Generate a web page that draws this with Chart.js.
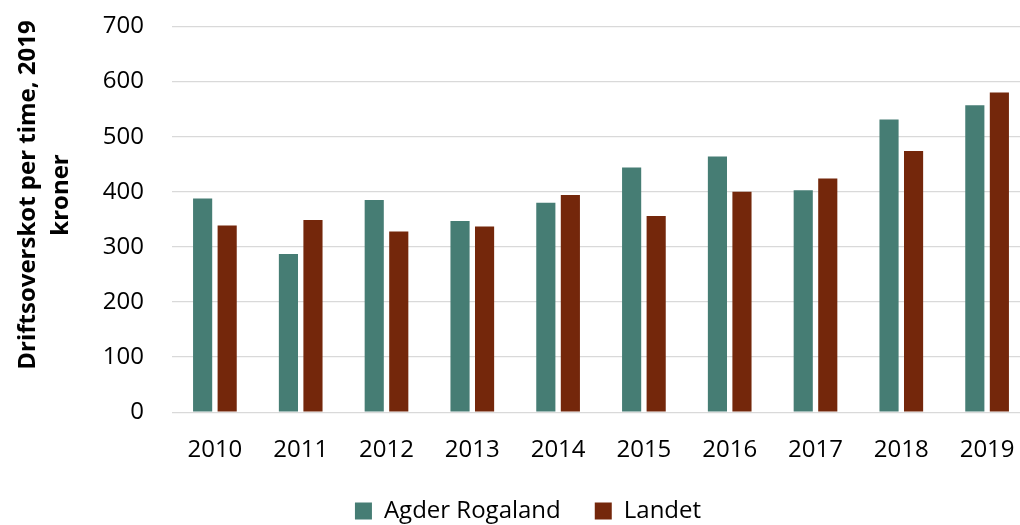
<!DOCTYPE html>
<html>
<head>
<meta charset="utf-8">
<script src="https://cdn.jsdelivr.net/npm/chart.js@4"></script>
<style>
  html, body { margin: 0; padding: 0; background: #fff; overflow: hidden; width: 1020px; height: 525px; }
  #wrap { position: absolute; left: 0; top: 0; width: 1056px; height: 525px; }
</style>
</head>
<body>
<div id="wrap"><canvas id="c"></canvas></div>
<script>
const categories = ['2010','2011','2012','2013','2014','2015','2016','2017','2018','2019'];
const agderRogaland = [388, 287, 385, 347, 380, 444, 464, 403, 531, 557];
const landet = [339, 349, 328, 337, 394, 356, 400, 424, 474, 580];
const seriesNames = ['Agder Rogaland', 'Landet'];
const yTitleLines = ['Driftsoverskot per time, 2019', 'kroner'];

const FONT = "'Open Sans', 'Noto Sans', sans-serif";

const layoutPlugin = {
  id: 'layoutTweaks',
  beforeLayout(chart) {
    const lg = chart.legend;
    if (lg && !lg._fixedFit) {
      const f = lg.fit.bind(lg);
      lg.fit = function () { f(); this.height = 60; };
      lg._fixedFit = true;
    }
  },
  afterLayout(chart) {
    const lg = chart.legend;
    if (lg) { lg.left += 13; lg.right += 13; }
  },
  afterDraw(chart) {
    const ctx = chart.ctx;
    ctx.save();
    ctx.fillStyle = '#000';
    ctx.font = "bold 24px " + FONT;
    ctx.textAlign = 'center';
    ctx.textBaseline = 'alphabetic';
    const xs = [35, 68];
    yTitleLines.forEach((t, i) => {
      ctx.save();
      ctx.translate(xs[i], 195);
      ctx.rotate(-Math.PI / 2);
      ctx.fillText(t, 0, 0);
      ctx.restore();
    });
    ctx.restore();
  }
};

new Chart(document.getElementById('c'), {
  type: 'bar',
  data: {
    labels: categories,
    datasets: [
      { label: seriesNames[0], data: agderRogaland, backgroundColor: '#467D74',
        categoryPercentage: 0.572, barPercentage: 0.78 },
      { label: seriesNames[1], data: landet, backgroundColor: '#74270B',
        categoryPercentage: 0.572, barPercentage: 0.78 }
    ]
  },
  options: {
    responsive: true,
    maintainAspectRatio: false,
    animation: false,
    devicePixelRatio: 1,
    layout: { padding: { left: 0, right: 26, top: 26.5, bottom: 0 } },
    plugins: {
      tooltip: { enabled: false },
      legend: {
        position: 'bottom',
        labels: {
          boxWidth: 17, boxHeight: 17, padding: 34,
          color: '#000',
          font: { family: FONT, size: 24 }
        }
      }
    },
    scales: {
      x: {
        afterFit(scale) { scale.height = 52.8; },
        grid: { display: false, drawTicks: false },
        border: { display: false },
        ticks: { color: '#000', font: { family: FONT, size: 24 }, padding: 24, autoSkip: false, maxRotation: 0 }
      },
      y: {
        min: 0, max: 700,
        afterFit(scale) { scale.width = 172; scale.paddingTop = 0; scale.paddingBottom = 0; },
        grid: { color: '#d9d9d9', lineWidth: 1.3, drawTicks: false },
        border: { display: false },
        ticks: { stepSize: 100, color: '#000', font: { family: FONT, size: 24 }, padding: 28 }
      }
    }
  },
  plugins: [layoutPlugin]
});
</script>
</body>
</html>
